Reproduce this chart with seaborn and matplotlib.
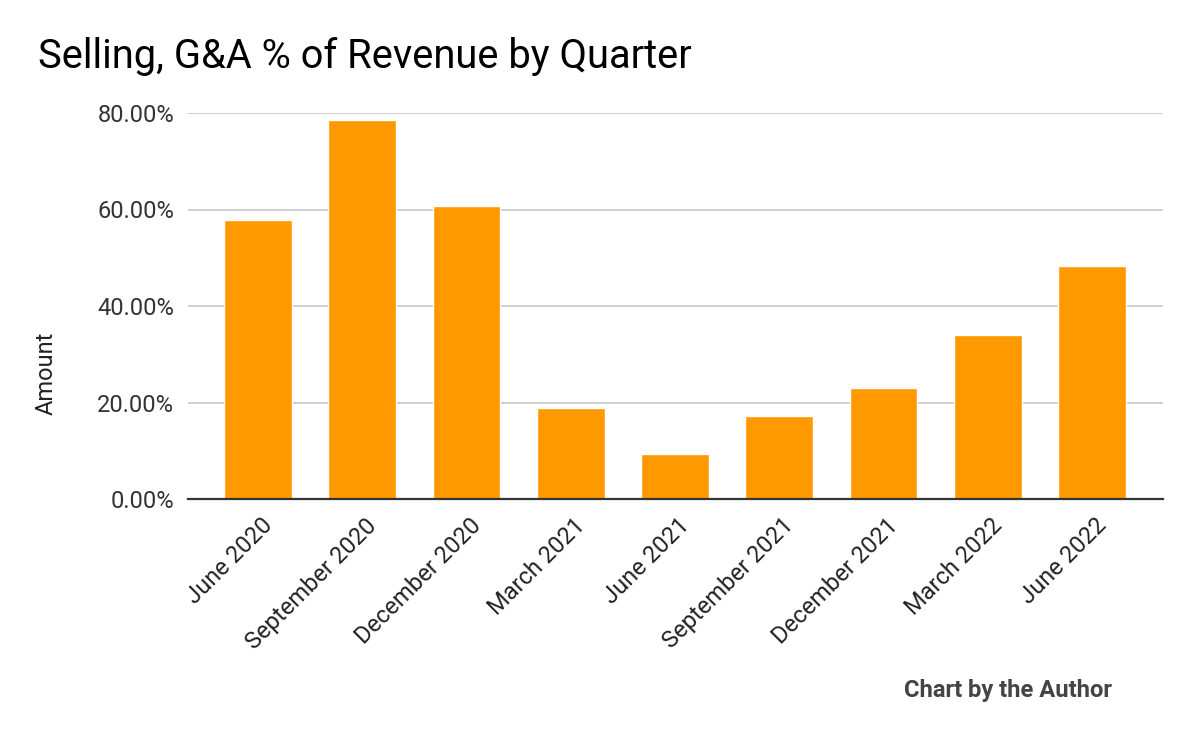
import matplotlib
matplotlib.use("Agg")
import matplotlib.pyplot as plt
import matplotlib.transforms as mtransforms
import seaborn as sns
import pandas as pd
from matplotlib.ticker import FuncFormatter

quarters = ["June 2020", "September 2020", "December 2020", "March 2021", "June 2021",
            "September 2021", "December 2021", "March 2022", "June 2022"]
sga_pct = [57.8, 78.5, 60.7, 18.8, 9.3, 17.2, 23.0, 33.9, 48.3]
y_ticks = [0, 20, 40, 60, 80]

df = pd.DataFrame({"Quarter": quarters, "Amount": sga_pct})

sns.set_theme(style="white")
plt.rcParams['font.family'] = ['Roboto', 'DejaVu Sans']

fig = plt.figure(figsize=(12, 7.42), dpi=100)
ax = fig.add_axes([188/1200, 1-499/742, (1163-188)/1200, (499-113)/742])

sns.barplot(data=df, x="Quarter", y="Amount", color="#ff9900", saturation=1,
            width=0.65, ax=ax, zorder=3)

ax.set_xlim(-0.67, 8.68)
ax.set_ylim(0, 80)
ax.set_yticks(y_ticks)
ax.yaxis.set_major_formatter(FuncFormatter(lambda v, p: f"{v:.2f}%"))
ax.grid(axis="y", color="#cccccc", linewidth=1.3, zorder=0)
for s in ["top", "right", "left"]:
    ax.spines[s].set_visible(False)
ax.spines["bottom"].set_color("#333333")
ax.spines["bottom"].set_linewidth(1.6)
ax.spines["bottom"].set_zorder(4)
ax.tick_params(axis="both", length=0)
ax.tick_params(axis="y", labelsize=17, labelcolor="#333333", pad=10)
ax.set_xlabel("")
ax.set_ylabel("")

# x category labels, rotated, placed at the category positions
ticks = ax.get_xticks()
ax.set_xticklabels([])
offset = mtransforms.ScaledTranslation(3/100, -15/100, fig.dpi_scale_trans)
trans = mtransforms.blended_transform_factory(ax.transData, ax.transAxes) + offset
for t, lab in zip(ticks, quarters):
    ax.text(t, 0, lab, transform=trans, rotation=45, rotation_mode="anchor",
            ha="right", va="top", fontsize=17, color="#222222")

fig.text(46.5/1200, 1-373.5/742, "Amount", rotation=90, fontsize=17,
         color="#222222", va="center", ha="center")
fig.text(38/1200, 1-56/742, "Selling, G&A % of Revenue by Quarter", fontsize=28.7,
         color="#000000", va="center", ha="left")
fig.text(1112/1200, 1-690/742, "Chart by the Author", fontsize=17.1, fontweight="bold",
         color="#444444", va="center", ha="right")

fig.savefig("out.png", dpi=100)
